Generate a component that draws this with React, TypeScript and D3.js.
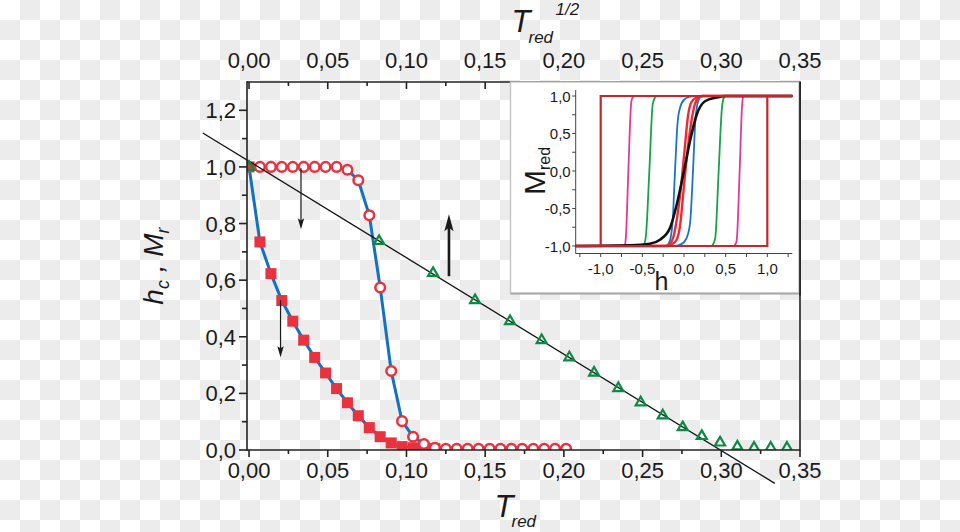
import React from 'react';
import * as d3 from 'd3';

// ---------- data ----------
const xTickValues = [0, 0.05, 0.1, 0.15, 0.2, 0.25, 0.3, 0.35];
const xTickLabels = ['0,00', '0,05', '0,10', '0,15', '0,20', '0,25', '0,30', '0,35'];
const xMinorTicks = [0.025, 0.075, 0.125, 0.175, 0.225, 0.275, 0.325];
const yTickValues = [0, 0.2, 0.4, 0.6, 0.8, 1.0, 1.2];
const yTickLabels = ['0,0', '0,2', '0,4', '0,6', '0,8', '1,0', '1,2'];
const yMinorTicks = [0.1, 0.3, 0.5, 0.7, 0.9, 1.1];

// filled squares (h_c vs T_red)
const squareT = [0, 0.0069, 0.0139, 0.0208, 0.0278, 0.0347, 0.0417, 0.0486, 0.0556, 0.0625, 0.0694, 0.0764, 0.0833, 0.0903, 0.0972, 0.1042, 0.1111, 0.1181];
const squareV = [1.0, 0.735, 0.623, 0.528, 0.455, 0.388, 0.327, 0.272, 0.217, 0.167, 0.121, 0.079, 0.047, 0.025, 0.012, 0.008, 0.006, 0.005];

// open circles (M_r vs T_red)
const circleT = [0.0069, 0.0139, 0.0208, 0.0278, 0.0347, 0.0417, 0.0486, 0.0556, 0.0625, 0.0694, 0.0764, 0.0833, 0.0903, 0.0972, 0.1042, 0.1111, 0.1181, 0.125, 0.1319, 0.1389, 0.1458, 0.1528, 0.1597, 0.1667, 0.1736, 0.1806, 0.1875, 0.1944, 0.2014];
const circleV = [1, 1, 1, 1, 1, 1, 1, 1, 0.99, 0.953, 0.829, 0.574, 0.279, 0.102, 0.047, 0.021, 0.008, 0.004, 0.004, 0.004, 0.004, 0.004, 0.004, 0.004, 0.004, 0.004, 0.004, 0.004, 0.004];

// open triangles (h_c vs T_red^1/2)
const triT = [0, 0.0826, 0.1169, 0.1436, 0.1658, 0.1859, 0.2035, 0.2192, 0.2346, 0.2488, 0.2628, 0.2755, 0.2876, 0.2992, 0.3102, 0.3208, 0.3314, 0.3417];
const triV = [1.0, 0.738, 0.625, 0.529, 0.455, 0.388, 0.327, 0.273, 0.218, 0.168, 0.122, 0.08, 0.049, 0.026, 0.012, 0.008, 0.008, 0.008];

// linear fit
const fitT = [-0.0294, 0.334];
const fitV = [1.12, -0.118];

// arrows [T, from, to]
const arrows = [
  { t: 0.033, from: 0.995, to: 0.78, thick: false },
  { t: 0.02, from: 0.529, to: 0.328, thick: false },
  { t: 0.127, from: 0.614, to: 0.833, thick: true },
];

// inset: hysteresis branches (descending branch, h ascending); other branch by point symmetry
const insetXTicks = [-1, -0.5, 0, 0.5, 1];
const insetXLabels = ['-1,0', '-0,5', '0,0', '0,5', '1,0'];
const insetYTicks = [-1, -0.5, 0, 0.5, 1];
const insetYLabels = ['-1,0', '-0,5', '0,0', '0,5', '1,0'];
const insetMinor = [-1.25, -0.75, -0.25, 0.25, 0.75, 1.25];

const magentaBranch: [number, number][] = [[-1.3, -1], [-0.72, -1], [-0.707, -0.98], [-0.696, -0.85], [-0.668, 0], [-0.632, 0.93], [-0.615, 0.98], [-0.6, 1], [1.3, 1]];
const greenBranch: [number, number][] = [[-1.3, -1], [-0.5, -1], [-0.48, -0.98], [-0.456, -0.85], [-0.416, 0], [-0.376, 0.884], [-0.35, 0.975], [-0.328, 1], [1.3, 1]];
const blueBranch: [number, number][] = [[-1.3, -1], [-0.21, -1], [-0.19, -0.98], [-0.16, -0.89], [-0.136, -0.67], [-0.108, 0], [-0.076, 0.66], [-0.048, 0.84], [0, 0.95], [0.072, 0.99], [0.12, 1], [1.3, 1]];
const redBranch: [number, number][] = [[-1.3, -1], [-0.23, -1], [-0.17, -0.97], [-0.13, -0.89], [-0.09, -0.67], [-0.038, -0.23], [0.002, 0.22], [0.05, 0.75], [0.09, 0.92], [0.15, 0.98], [0.21, 1], [1.3, 1]];
const blackCurve: [number, number][] = [[-1.3, -1], [-0.65, -0.99], [-0.41, -0.97], [-0.288, -0.916], [-0.168, -0.76], [-0.088, -0.45], [0, 0], [0.072, 0.4], [0.152, 0.75], [0.252, 0.93], [0.392, 0.98], [0.49, 1], [1.3, 1]];
const squareLoop: [number, number][] = [[-1.3, -1], [1, -1], [1, 1], [1.3, 1]];

const mirror = (pts: [number, number][]) => pts.map(([h, m]) => [-h, -m] as [number, number]).reverse();

// ---------- layout ----------
const W = 960, H = 532;
const x = d3.scaleLinear().domain([-0.0013, 0.35]).range([247, 800]);
const y = d3.scaleLinear().domain([0, 1.3]).range([450, 82]);
const ix = d3.scaleLinear().domain([-1.3, 1.3]).range([575.7, 792.3]);
const iy = d3.scaleLinear().domain([-1, 1]).range([246, 96]);

const FONT = 'Liberation Sans, Arial, Helvetica, sans-serif';
const AX = '#222';
const RED = '#e8323f';
const GREEN = '#0b8a43';
const BLUE = '#1271c0';

export default function App() {
  const line = d3.line<[number, number]>().x(d => x(d[0])).y(d => y(d[1]));
  const sqPts = squareT.map((t, i) => [t, squareV[i]] as [number, number]);
  const ciPts = circleT.map((t, i) => [t, circleV[i]] as [number, number]);
  const triPts = triT.map((t, i) => [t, triV[i]] as [number, number]);
  const fitPts = fitT.map((t, i) => [t, fitV[i]] as [number, number]);

  const iline = d3.line<[number, number]>().x(d => ix(d[0])).y(d => iy(d[1])).curve(d3.curveMonotoneX);
  const ilineLin = d3.line<[number, number]>().x(d => ix(d[0])).y(d => iy(d[1]));

  const x0 = x.range()[0], x1 = x.range()[1];
  const y0 = y.range()[0], y1 = y.range()[1];
  const cx = (x0 + x1) / 2;

  const tri = (px: number, py: number) => {
    const w = 10, h = 8.6;
    return `M${px},${py - (2 * h) / 3}L${px + w / 2},${py + h / 3}L${px - w / 2},${py + h / 3}Z`;
  };

  const insetLeft = 510.5, insetTop = y1, insetRight = x1 - 1, insetBottom = 293.5;

  return (
    <svg width={W} height={H} style={{ position: 'absolute', left: 0, top: 0, fontFamily: FONT }}>
      <defs>
        <pattern id="checker" width={40} height={40} patternUnits="userSpaceOnUse">
          <rect x={0} y={0} width={40} height={40} fill="#ffffff" />
          <rect x={20} y={0} width={20} height={20} fill="#ececec" />
          <rect x={0} y={20} width={20} height={20} fill="#ececec" />
        </pattern>
        <clipPath id="plotClip">
          <rect x={x0} y={y1} width={x1 - x0} height={y0 - y1} />
        </clipPath>
      </defs>
      <rect x={0} y={0} width={W} height={H} fill="url(#checker)" />

      {/* blue connecting lines */}
      <g clipPath="url(#plotClip)">
        <path d={line(sqPts) || ''} fill="none" stroke={BLUE} strokeWidth={3} />
        <path d={line(ciPts) || ''} fill="none" stroke={BLUE} strokeWidth={3} />
        {sqPts.map((p, i) => (
          <rect key={'s' + i} x={x(p[0]) - 5.5} y={y(p[1]) - 5.5} width={11} height={11} fill={RED} />
        ))}
        {ciPts.map((p, i) => (
          <circle key={'c' + i} cx={x(p[0])} cy={y(p[1])} r={4.8} fill="#fff" stroke={RED} strokeWidth={2.5} />
        ))}
      </g>

      {/* linear fit */}
      <path d={line(fitPts) || ''} fill="none" stroke="#111" strokeWidth={1.3} />

      <g clipPath="url(#plotClip)">
        {triPts.map((p, i) => (
          <path key={'t' + i} d={tri(x(p[0]), y(p[1]))} fill="none" stroke={GREEN} strokeWidth={2.2} strokeLinejoin="miter" />
        ))}
      </g>

      {/* arrows */}
      {arrows.map((a, i) => {
        const ax = x(a.t), ya = y(a.from), yb = y(a.to);
        const dir = yb > ya ? 1 : -1;
        const hl = a.thick ? 17 : 11;
        const hw = a.thick ? 4.6 : 3.2;
        return (
          <g key={'a' + i}>
            <line x1={ax} y1={ya} x2={ax} y2={yb - dir * hl * 0.6} stroke="#1a1a1a" strokeWidth={a.thick ? 2.6 : 1.2} />
            <path d={`M${ax},${yb}L${ax - hw},${yb - dir * hl}L${ax},${yb - dir * hl * 0.8}L${ax + hw},${yb - dir * hl}Z`} fill="#1a1a1a" />
          </g>
        );
      })}

      {/* main axes */}
      <g stroke={AX} strokeWidth={1.6} fill="none">
        <line x1={x0} y1={y0} x2={x1} y2={y0} />
        <line x1={x0} y1={y1} x2={x1} y2={y1} />
        <line x1={x0} y1={y0 + 0.8} x2={x0} y2={y1 - 0.8} />
        <line x1={x1} y1={y0 + 0.8} x2={x1} y2={y1 - 0.8} />
        {xTickValues.map((v, i) => (
          <line key={'xb' + i} x1={x(v)} y1={y0} x2={x(v)} y2={y0 + 7} />
        ))}
        {xMinorTicks.map((v, i) => (
          <line key={'xbm' + i} x1={x(v)} y1={y0} x2={x(v)} y2={y0 + 4} />
        ))}
        {xTickValues.map((v, i) => (
          <line key={'xt' + i} x1={x(v)} y1={y1} x2={x(v)} y2={y1 + 7} />
        ))}
        {xMinorTicks.map((v, i) => (
          <line key={'xtm' + i} x1={x(v)} y1={y1} x2={x(v)} y2={y1 + 4} />
        ))}
        {yTickValues.map((v, i) => (
          <line key={'yl' + i} x1={x0 - 8} y1={y(v)} x2={x0} y2={y(v)} />
        ))}
        {yMinorTicks.map((v, i) => (
          <line key={'ylm' + i} x1={x0 - 5} y1={y(v)} x2={x0} y2={y(v)} />
        ))}
      </g>
      <g fontSize={22} fill="#1a1a1a" textAnchor="middle">
        {xTickValues.map((v, i) => (
          <text key={'xbl' + i} x={x(v)} y={y0 + 28}>{xTickLabels[i]}</text>
        ))}
        {xTickValues.map((v, i) => (
          <text key={'xtl' + i} x={x(v)} y={y1 - 14}>{xTickLabels[i]}</text>
        ))}
        {yTickValues.map((v, i) => (
          <text key={'yll' + i} x={x0 - 11} y={y(v) + 8} textAnchor="end">{yTickLabels[i]}</text>
        ))}
      </g>

      {/* axis titles */}
      <g fill="#1a1a1a" fontStyle="italic">
        <text x={cx - 29} y={517} fontSize={31}>T</text>
        <text x={cx - 12} y={527} fontSize={17}>red</text>
        <text x={cx - 12} y={32} fontSize={31}>T</text>
        <text x={cx + 5} y={43} fontSize={17}>red</text>
        <text x={cx + 32} y={15} fontSize={17}>1/2</text>
        <text transform={`translate(163,${(y0 + y1) / 2}) rotate(-90)`} textAnchor="middle" fontSize={28}>
          <tspan>h</tspan>
          <tspan fontSize={18} dy={6}>c</tspan>
          <tspan dy={-6}> , M</tspan>
          <tspan fontSize={18} dy={6}>r</tspan>
        </text>
      </g>

      {/* inset */}
      <g>
        <rect x={insetLeft} y={insetTop} width={insetRight - insetLeft} height={insetBottom - insetTop} fill="#fff" stroke="#c4c4c4" strokeWidth={1.4} />
        <line x1={insetLeft} y1={insetBottom} x2={insetRight} y2={insetBottom} stroke="#a8a8a8" strokeWidth={2.2} />
        <line x1={x1} y1={y1} x2={x1} y2={insetBottom + 2} stroke={AX} strokeWidth={1.6} />

        <path d={iline(magentaBranch) || ''} fill="none" stroke="#e03a9c" strokeWidth={1.8} />
        <path d={iline(mirror(magentaBranch)) || ''} fill="none" stroke="#e03a9c" strokeWidth={1.8} />
        <path d={iline(greenBranch) || ''} fill="none" stroke="#18a24a" strokeWidth={1.8} />
        <path d={iline(mirror(greenBranch)) || ''} fill="none" stroke="#18a24a" strokeWidth={1.8} />
        <path d={iline(blueBranch) || ''} fill="none" stroke="#1a74c4" strokeWidth={1.8} />
        <path d={iline(mirror(blueBranch)) || ''} fill="none" stroke="#1a74c4" strokeWidth={1.8} />
        <path d={iline(redBranch) || ''} fill="none" stroke="#ee2b35" strokeWidth={2.4} />
        <path d={iline(mirror(redBranch)) || ''} fill="none" stroke="#ee2b35" strokeWidth={2.4} />
        <path d={iline(blackCurve) || ''} fill="none" stroke="#111" strokeWidth={2.6} />
        <path d={ilineLin(squareLoop) || ''} fill="none" stroke="#c1272d" strokeWidth={2.2} />
        <path d={ilineLin(mirror(squareLoop)) || ''} fill="none" stroke="#c1272d" strokeWidth={2.2} />

        <g stroke="#444" strokeWidth={1} fill="none">
          <line x1={ix(-1.3)} y1={iy(-1.1)} x2={ix(-1.3)} y2={iy(1.08)} />
          <line x1={ix(-1.3)} y1={iy(-1.1)} x2={ix(1.3)} y2={iy(-1.1)} />
          {insetXTicks.concat(insetMinor).map((v, i) => (
            <line key={'ixt' + i} x1={ix(v)} y1={iy(-1.1)} x2={ix(v)} y2={iy(-1.1) + 3.5} />
          ))}
          {insetYTicks.concat([-0.75, -0.25, 0.25, 0.75]).map((v, i) => (
            <line key={'iyt' + i} x1={ix(-1.3) - 3.5} y1={iy(v)} x2={ix(-1.3)} y2={iy(v)} />
          ))}
        </g>
        <g fontSize={15} fill="#1a1a1a">
          {insetXTicks.map((v, i) => (
            <text key={'ixl' + i} x={ix(v)} y={iy(-1.1) + 20} textAnchor="middle">{insetXLabels[i]}</text>
          ))}
          {insetYTicks.map((v, i) => (
            <text key={'iyl' + i} x={ix(-1.3) - 5} y={iy(v) + 5.5} textAnchor="end">{insetYLabels[i]}</text>
          ))}
        </g>
        <text x={ix(-0.27)} y={290} fontSize={25} fill="#1a1a1a" textAnchor="middle">h</text>
        <text transform={`translate(545,${iy(0)}) rotate(-90)`} textAnchor="middle" fontSize={30} fill="#1a1a1a">
          <tspan>M</tspan>
          <tspan fontSize={16} dy={5}>red</tspan>
        </text>
      </g>
    </svg>
  );
}
